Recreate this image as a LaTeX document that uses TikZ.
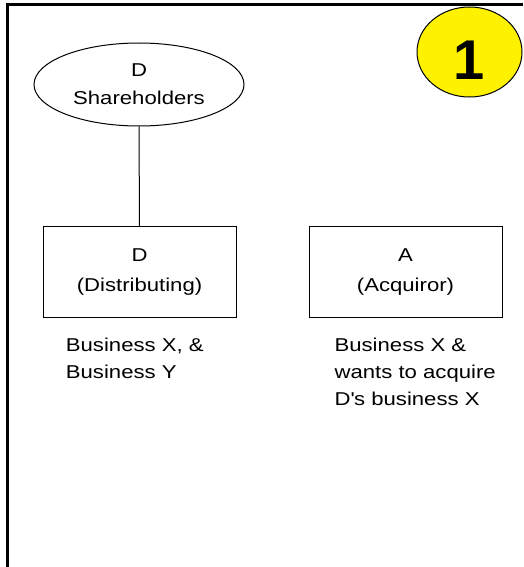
\documentclass[tikz,border=0pt]{standalone}
\usepackage{fontspec}
\setmainfont{Liberation Sans}[FakeStretch=1.19]
\newfontfamily\stepfont{Liberation Sans}
\usetikzlibrary{shapes.geometric}

\begin{document}
\begin{tikzpicture}[x=1pt,y=-1pt,
    entity/.style={draw,line width=1pt,minimum width=193pt,minimum height=91pt,inner sep=0pt,align=center,font=\fontsize{18.6}{30}\selectfont},
    holders/.style={ellipse,draw,line width=1pt,minimum width=210pt,minimum height=83pt,inner sep=0pt,align=center,font=\fontsize{18.6}{28}\selectfont},
    note/.style={anchor=north west,inner sep=0pt,align=left,font=\fontsize{18.6}{27}\selectfont},
    stepmark/.style={ellipse,draw,line width=1pt,fill=yellow,minimum width=105pt,minimum height=90pt,inner sep=0pt,font=\stepfont\fontsize{56}{56}\selectfont\bfseries,text height=56pt}]
  \useasboundingbox (0,0) rectangle (523,567);
  % frame
  \draw[line width=2.7pt] (523,4.7) -- (7.3,4.7) -- (7.3,567);
  % step number
  \node[stepmark] (num) at (469.5,52) {1};
  % shareholders and the two corporations
  \node[holders] (sh) at (139,84.5) {D\\Shareholders};
  \node[entity] (dist) at (139.5,272.3) {D\\(Distributing)};
  \node[entity] (acq) at (405.5,272.3) {A\\(Acquiror)};
  \draw[line width=1pt] (sh.south) -- (dist.north);
  % businesses
  \node[note] (distbiz) at (65.7,338.3) {Business X, \&\\Business Y};
  \node[note] (acqbiz) at (334.4,338.3) {Business X \&\\wants to acquire\\D\textquotesingle s business X};
\end{tikzpicture}
\end{document}
